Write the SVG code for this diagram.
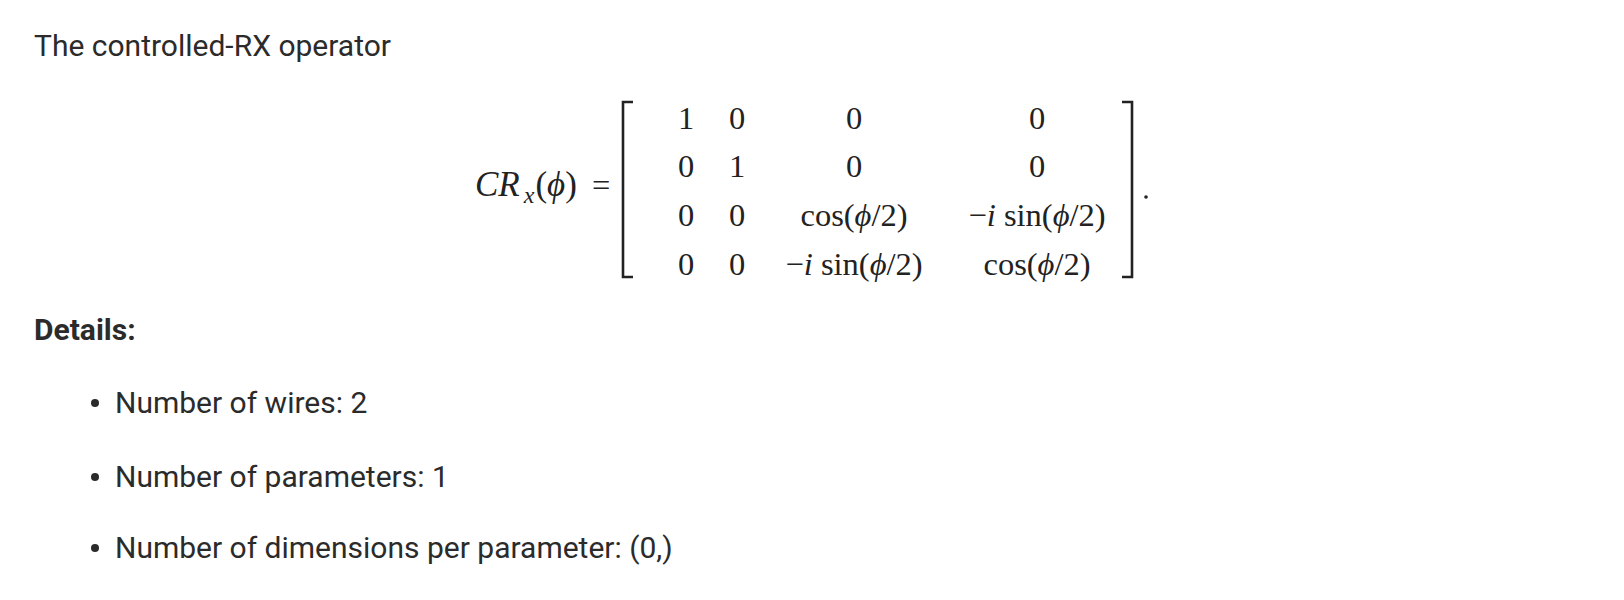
<svg xmlns="http://www.w3.org/2000/svg" width="1624" height="600" viewBox="0 0 1624 600">
<style>
.body{font-family:Roboto,"Liberation Sans",sans-serif;font-size:30px;fill:#2b2b2b}
.bold{font-weight:bold}
.m{font-family:"Liberation Serif","DejaVu Serif",serif;font-size:32.5px;fill:#222}
.c{text-anchor:middle}
.it{font-style:italic}
.br{fill:none;stroke:#222;stroke-width:2.6}
.dot{fill:#2b2b2b}
</style>
<rect width="1624" height="600" fill="#fff"/>
<g id="title"><text class="body" x="34" y="56">The controlled-RX operator</text></g>
<g id="equation">
<text class="m" x="475" y="196" style="font-size:35px"><tspan class="it">CR</tspan><tspan class="it" style="font-size:24px" dx="4" dy="7">x</tspan><tspan dy="-7" dx="1">(</tspan><tspan class="it">ϕ</tspan><tspan>)</tspan></text>
<text class="m" x="592" y="196">=</text>
<path class="br" d="M633,102 H623 V277 H633"/>
<path class="br" d="M1122,102 H1132 V277 H1122"/>
<g class="m c">
<text x="686" y="129">1</text><text x="737" y="129">0</text><text x="854" y="129">0</text><text x="1037" y="129">0</text>
<text x="686" y="177">0</text><text x="737" y="177">1</text><text x="854" y="177">0</text><text x="1037" y="177">0</text>
<text x="686" y="226">0</text><text x="737" y="226">0</text>
<text x="854" y="226">cos(<tspan class="it">ϕ</tspan>/2)</text>
<text x="1037" y="226">−<tspan class="it">i</tspan> sin(<tspan class="it">ϕ</tspan>/2)</text>
<text x="686" y="275">0</text><text x="737" y="275">0</text>
<text x="854" y="275">−<tspan class="it">i</tspan> sin(<tspan class="it">ϕ</tspan>/2)</text>
<text x="1037" y="275">cos(<tspan class="it">ϕ</tspan>/2)</text>
</g>
<circle cx="1146" cy="197" r="1.8" fill="#222"/>
</g>
<g id="details">
<text class="body bold" x="34" y="340">Details:</text>
<circle class="dot" cx="95" cy="403" r="4"/>
<text class="body" x="115" y="413">Number of wires: 2</text>
<circle class="dot" cx="95" cy="477" r="4"/>
<text class="body" x="115" y="487">Number of parameters: 1</text>
<circle class="dot" cx="95" cy="548" r="4"/>
<text class="body" x="115" y="558">Number of dimensions per parameter: (0,)</text>
</g>
</svg>
